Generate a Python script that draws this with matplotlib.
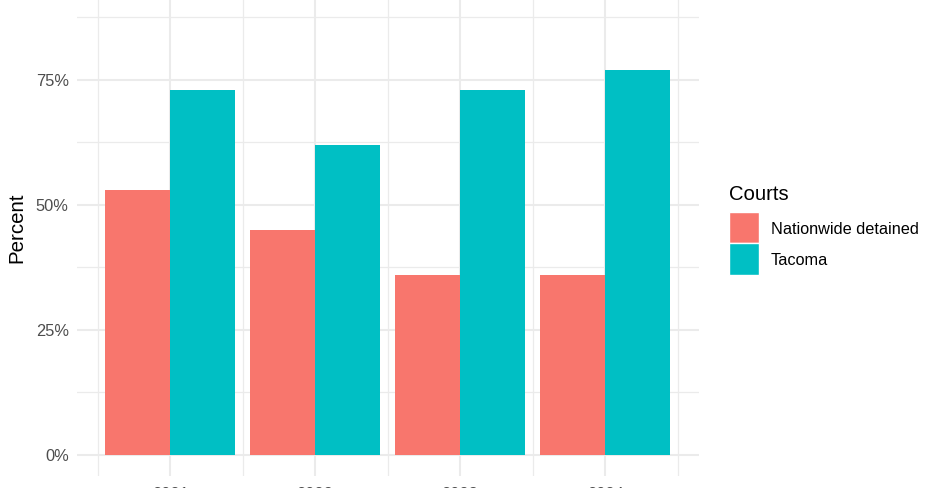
import matplotlib
matplotlib.use("Agg")
import matplotlib.pyplot as plt
from matplotlib.patches import Patch
import numpy as np

# data
years = ["2021", "2022", "2023", "2024"]
courts = ["Nationwide detained", "Tacoma"]
nationwide = [53, 45, 36, 36]
tacoma = [73, 62, 73, 77]
colors = ["#F8766D", "#00BFC4"]

plt.rcParams["font.family"] = ["Liberation Sans", "DejaVu Sans"]

W, H = 940, 489
fig = plt.figure(figsize=(W / 100, H / 100), dpi=100)

# panel placed in pixels (the reference is a crop, so panel runs past the top)
px_left, px_right, px_top, px_bottom = 77, 699, -10, 477
ax = fig.add_axes([px_left / W, (H - px_bottom) / H,
                   (px_right - px_left) / W, (px_bottom - px_top) / H])

# pixel -> data mapping: x=1 at 170px, 145px per category; 0% at 455px, 5px per %
ax.set_xlim(1 + (px_left - 170) / 145, 1 + (px_right - 170) / 145)
ax.set_ylim((455.5 - px_bottom) / 5, (455.5 - px_top) / 5)

x = np.arange(1, len(years) + 1)
w = 0.45
ax.bar(x - w / 2, nationwide, width=w, color=colors[0], zorder=3)
ax.bar(x + w / 2, tacoma, width=w, color=colors[1], zorder=3)

# theme_minimal style grid
ax.set_xticks(x)
ax.set_xticklabels(years)
ax.set_xticks(np.arange(0.5, len(years) + 1, 1), minor=True)
ax.set_yticks([0, 25, 50, 75])
ax.set_yticklabels(["0%", "25%", "50%", "75%"])
ax.set_yticks([12.5, 37.5, 62.5, 87.5], minor=True)
ax.grid(True, which="major", color="#EBEBEB", linewidth=1.5, zorder=0)
ax.grid(True, which="minor", color="#EBEBEB", linewidth=0.9, zorder=0)
ax.set_axisbelow(True)
for s in ax.spines.values():
    s.set_visible(False)
ax.tick_params(which="both", length=0)
ax.tick_params(axis="x", pad=7, labelsize=11.8, labelcolor="#4D4D4D")
ax.tick_params(axis="y", pad=6, labelsize=11.8, labelcolor="#4D4D4D")

fig.text(17 / W, 1 - 228 / H, "Percent", rotation=90, ha="center", va="center",
         fontsize=14.8)

# legend title drawn on its own so the gap under it matches
fig.text(729 / W, 1 - 200 / H, "Courts", ha="left", va="baseline", fontsize=14.6)
handles = [Patch(facecolor=c, edgecolor="white", linewidth=1) for c in colors]
fs = 11.7
fig.legend(handles, courts, loc="upper left",
           bbox_to_anchor=(729 / W, 1 - 213 / H), frameon=False,
           fontsize=fs, handlelength=30 / (fs * 100 / 72),
           handleheight=2.6, labelspacing=0.0, handletextpad=0.72,
           borderpad=0, borderaxespad=0)

fig.savefig("out.png", dpi=100)
